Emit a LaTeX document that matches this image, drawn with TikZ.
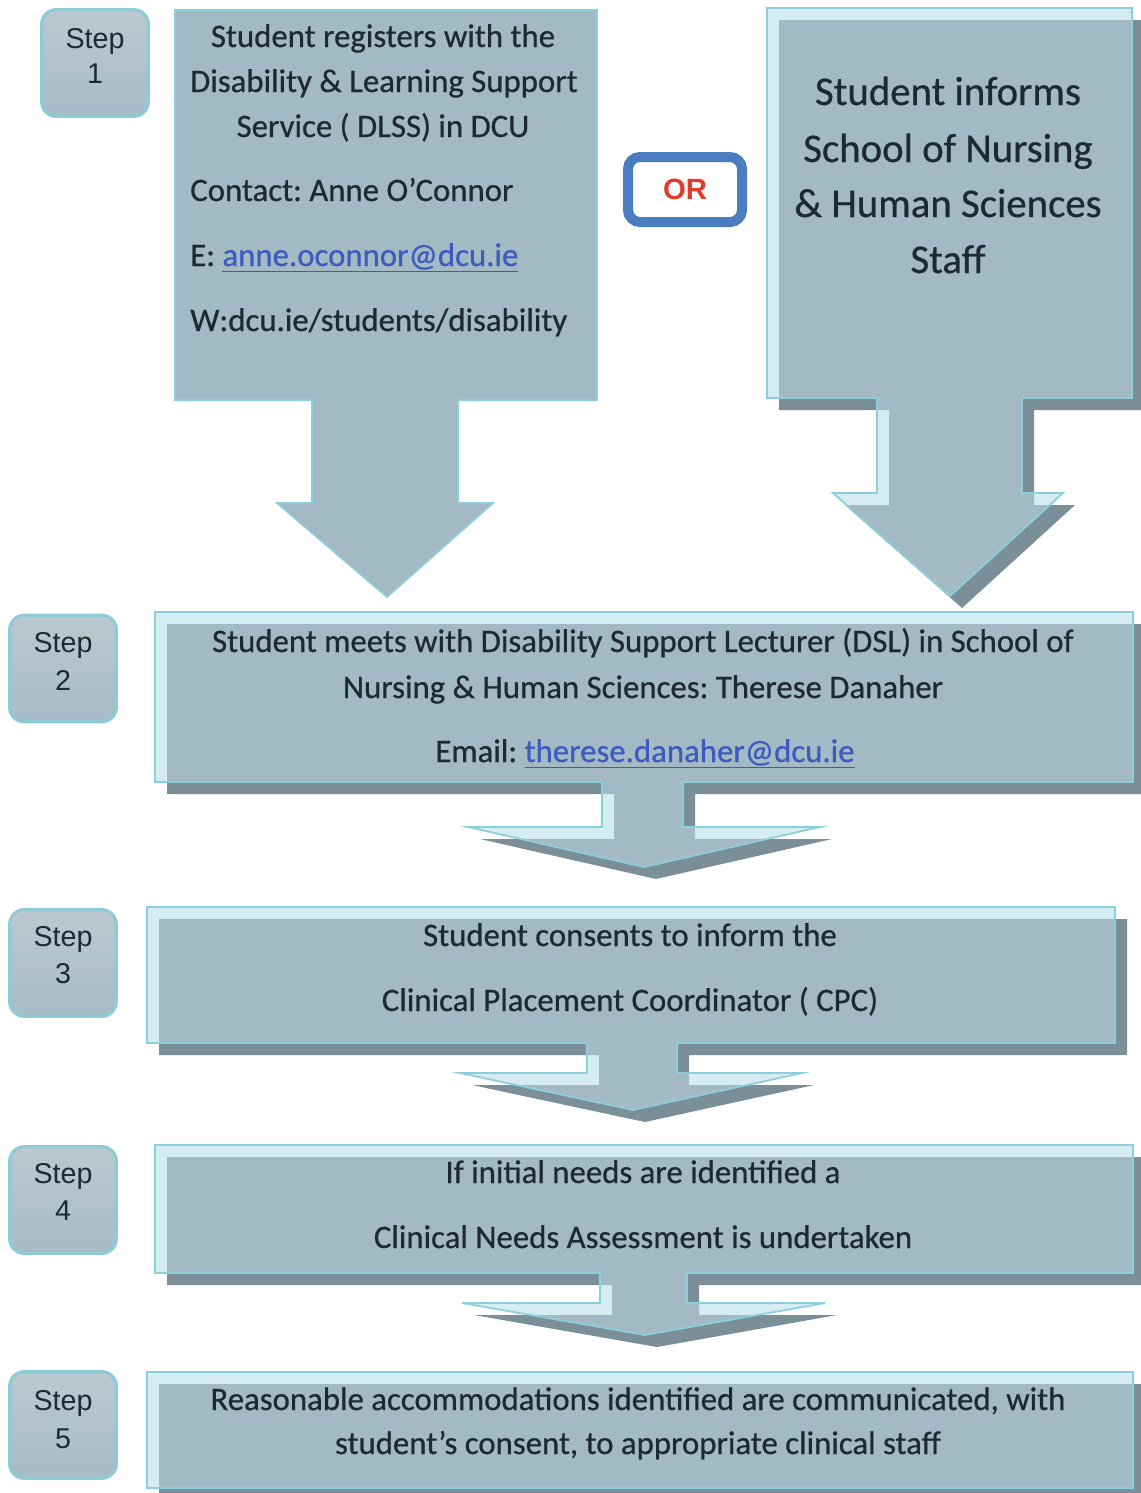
\documentclass[tikz,border=0pt]{standalone}
\usepackage{fontspec}
\setmainfont{Carlito}[FakeBold=0.6]
\newfontfamily\arialf{Liberation Sans}
\definecolor{palec}{HTML}{D5ECF2}
\definecolor{midc}{HTML}{A3B9C3}
\definecolor{darkc}{HTML}{7B8F99}
\definecolor{cyanc}{HTML}{8CCFDC}
\definecolor{txtc}{HTML}{1E2A33}
\definecolor{linkc}{HTML}{3D5BBF}
\definecolor{orblue}{HTML}{4A7CC0}
\definecolor{orred}{HTML}{E23B2E}
\definecolor{steptop}{HTML}{BCC8D0}
\definecolor{stepbot}{HTML}{A6BCC6}
\definecolor{stepedge}{HTML}{8FCBD6}
\newcommand{\lnk}[1]{\textcolor{linkc}{\underline{#1}}}
\newcommand{\tdshape}[1]{%
  \fill[darkc, shift={(12,12)}] #1;
  \fill[palec] #1;
  \begin{scope}
    \clip[shift={(12,12)}] #1;
    \fill[midc] #1;
  \end{scope}
  \draw[cyanc, line width=1.3pt] #1;
}
\frenchspacing
\begin{document}
\begin{tikzpicture}[x=0.75pt,y=-0.75pt,
  txt/.style={anchor=base, inner sep=0pt, text=txtc, font=\fontsize{24.6}{28}\selectfont},
  bigtxt/.style={anchor=base, inner sep=0pt, text=txtc, font=\fontsize{30.6}{36}\selectfont},
  steplbl/.style={anchor=base, inner sep=0pt, text=txtc, font=\arialf\fontsize{21.5}{25}\selectfont},
  stepbox/.style={draw=stepedge, line width=2.4pt, top color=steptop, bottom color=stepbot,
    rounded corners=11pt, minimum width=80pt, minimum height=80pt, inner sep=0pt}]
\useasboundingbox (0,0) rectangle (1140,1493);
\fill[white] (0,0) rectangle (1140,1493);

% flat shape for step 1 (left)
\draw[cyanc, fill=midc, line width=1.3pt] (175,10) -- (597,10) -- (597,400) -- (458,400) -- (458,503) -- (493,503) -- (387,597) -- (277,503) -- (312,503) -- (312,400) -- (175,400) -- cycle;

% 3D shapes
\tdshape{(767,8) -- (1132,8) -- (1132,398) -- (1022,398) -- (1022,493) -- (1063,493) -- (950,596) -- (833,493) -- (877,493) -- (877,398) -- (767,398) -- cycle}
\tdshape{(155,612) -- (1133,612) -- (1133,782) -- (683,782) -- (683,827) -- (820,827) -- (644,867) -- (468,827) -- (602,827) -- (602,782) -- (155,782) -- cycle}
\tdshape{(147,907) -- (1115,907) -- (1115,1043) -- (677,1043) -- (677,1073) -- (802,1073) -- (633,1110) -- (460,1073) -- (587,1073) -- (587,1043) -- (147,1043) -- cycle}
\tdshape{(155,1145) -- (1133,1145) -- (1133,1273) -- (687,1273) -- (687,1303) -- (825,1303) -- (645,1335) -- (462,1303) -- (600,1303) -- (600,1273) -- (155,1273) -- cycle}
\tdshape{(147,1372) -- (1133,1372) -- (1133,1488) -- (147,1488) -- cycle}

% step boxes
\node (s1) [stepbox] at (95,63) {};
\node (s2) [stepbox] at (63,668.5) {};
\node (s3) [stepbox] at (63,963) {};
\node (s4) [stepbox] at (63,1200) {};
\node (s5) [stepbox] at (63,1425) {};
\node (s1a) [steplbl] at (95,48) {Step};
\node (s1b) [steplbl] at (95,83) {1};
\node (s2a) [steplbl] at (63,652) {Step};
\node (s2b) [steplbl] at (63,690) {2};
\node (s3a) [steplbl] at (63,946) {Step};
\node (s3b) [steplbl] at (63,983) {3};
\node (s4a) [steplbl] at (63,1183) {Step};
\node (s4b) [steplbl] at (63,1220) {4};
\node (s5a) [steplbl] at (63,1410) {Step};
\node (s5b) [steplbl] at (63,1448) {5};

% OR box
\node (or) [draw=orblue, line width=7.5pt, rounded corners=9pt, minimum width=85.5pt, minimum height=48.75pt, inner sep=0pt, text=orred, font=\arialf\bfseries\fontsize{22}{26}\selectfont] at (685,189.5) {OR};

% step 1 left texts
\node (t1a) [txt] at (383,47) {Student registers with the};
\node (t1b) [txt] at (384,92) {Disability \& Learning Support};
\node (t1c) [txt] at (383,137) {Service ( DLSS) in DCU};
\node (t1d) [txt, anchor=base west] at (190,201) {Contact: Anne O’Connor};
\node (t1e) [txt, anchor=base west] at (190,266) {E: \lnk{anne.oconnor@dcu.ie}};
\node (t1f) [txt, anchor=base west] at (190,331) {W:dcu.ie/students/disability};

% right box texts
\node (r1) [bigtxt] at (948,105) {Student informs};
\node (r2) [bigtxt] at (948,162) {School of Nursing};
\node (r3) [bigtxt] at (948,217) {\& Human Sciences};
\node (r4) [bigtxt] at (948,273) {Staff};

% step 2
\node (t2a) [txt] at (643,652) {Student meets with Disability Support Lecturer (DSL) in School of};
\node (t2b) [txt] at (643,698) {Nursing \& Human Sciences: Therese Danaher};
\node (t2c) [txt] at (645,762) {Email: \lnk{therese.danaher@dcu.ie}};

% step 3
\node (t3a) [txt] at (630,946) {Student consents to inform the};
\node (t3b) [txt] at (630,1011) {Clinical Placement Coordinator ( CPC)};

% step 4
\node (t4a) [txt] at (643,1183) {If initial needs are identified a};
\node (t4b) [txt] at (643,1248) {Clinical Needs Assessment is undertaken};

% step 5
\node (t5a) [txt] at (638,1410) {Reasonable accommodations identified are communicated, with};
\node (t5b) [txt] at (638,1454) {student’s consent, to appropriate clinical staff};
\end{tikzpicture}
\end{document}
